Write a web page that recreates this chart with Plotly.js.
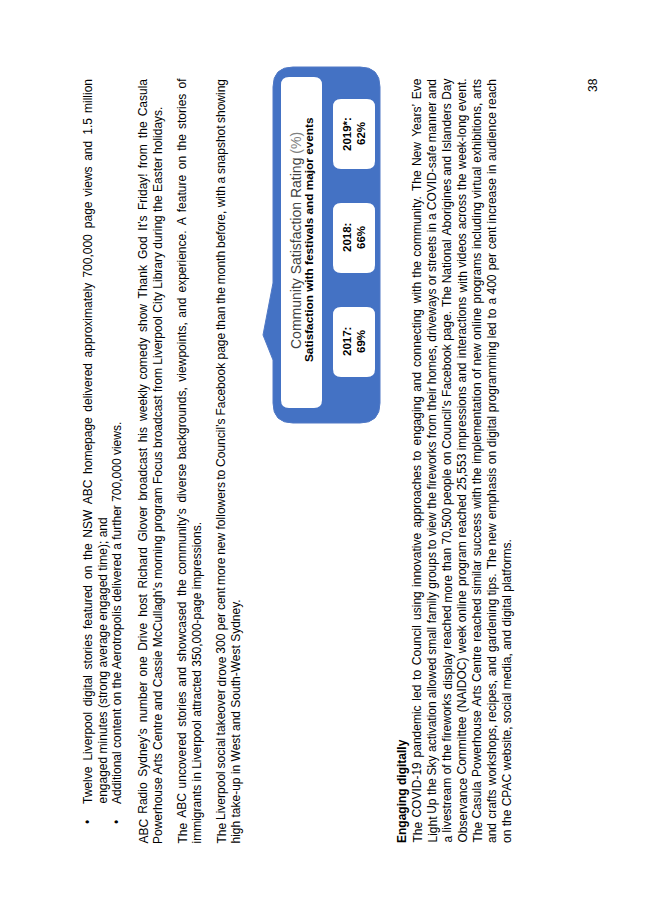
<!DOCTYPE html>
<html>
<head>
<meta charset="utf-8">
<script src="https://cdn.plot.ly/plotly-3.0.1.min.js"></script>
<style>
  html, body { margin: 0; padding: 0; background: #fff; }
  #page { width: 653px; height: 923px; }
</style>
</head>
<body>
<div id="page"></div>
<script>
window.addEventListener("DOMContentLoaded", init);

// chart values
const years = ["2017:", "2018:", "2019*:"];
const ratings = [69, 66, 62];
const chartTitle = "Community Satisfaction Rating";
const chartUnit = "(%)";
const chartSubtitle = "Satisfaction with festivals and major events";

// page text, one entry per printed line
const bulletLines = [
    ["Twelve Liverpool digital stories featured on the NSW ABC homepage delivered approximately 700,000 page views and 1.5 million",
     "engaged minutes (strong average engaged time); and"],
    ["Additional content on the Aerotropolis delivered a further 700,000 views."]
];
const paragraphLines = [
    ["ABC Radio Sydney’s number one Drive host Richard Glover broadcast his weekly comedy show Thank God It’s Friday! from the Casula",
     "Powerhouse Arts Centre and Cassie McCullagh’s morning program Focus broadcast from Liverpool City Library during the Easter holidays."],
    ["The ABC uncovered stories and showcased the community’s diverse backgrounds, viewpoints, and experience. A feature on the stories of",
     "immigrants in Liverpool attracted 350,000-page impressions."],
    ["The Liverpool social takeover drove 300 per cent more new followers to Council’s Facebook page than the month before, with a snapshot showing",
     "high take-up in West and South-West Sydney."]
];
const digitalHeading = "Engaging digitally";
const digitalLines = [
    "The COVID-19 pandemic led to Council using innovative approaches to engaging and connecting with the community.  The New Years’ Eve",
    "Light Up the Sky activation allowed small family groups to view the fireworks from their homes, driveways or streets in a COVID-safe manner and",
    "a livestream of the fireworks display reached more than 70,500 people on Council’s Facebook page. The National Aborigines and Islanders Day",
    "Observance Committee (NAIDOC) week online program reached 25,553 impressions and interactions with videos across the week-long event.",
    "The Casula Powerhouse Arts Centre reached similar success with the implementation of new online programs including virtual exhibitions, arts",
    "and crafts workshops, recipes, and gardening tips. The new emphasis on digital programming led to a 400 per cent increase in audience reach",
    "on the CPAC website, social media, and digital platforms."
];
const pageNumber = "38";


const FONT = "Liberation Sans, Arial, sans-serif";
const BLUE = "#4472C4";
const TEXT_END = 79;
let annotations = [];
let shapes = [];
let ctx = document.createElement("canvas").getContext("2d");


function measure(word, size, bold) {
    ctx.font = (bold ? "bold " : "") + size + "px 'Liberation Sans'";
    return ctx.measureText(word).width;
}


function label(text, x, y, size, opts) {
    opts = opts || {};
    annotations.push({
        x: x, y: y, xref: "x", yref: "y",
        text: text, showarrow: false, textangle: -90,
        xanchor: "center", yanchor: opts.yanchor || "bottom",
        borderpad: 0, borderwidth: 0,
        font: { family: FONT, size: size, color: opts.color || "#000",
                weight: opts.bold ? "bold" : "normal" }
    });
}


// rotated line of text reading upward from yStart; justified lines are spread to yEnd
function addLine(text, x, yStart, justify, size, bold) {
    size = size || 12;
    if (!justify) {
        label(bold ? "<b>" + text + "</b>" : text, x, yStart, size, { bold: bold });
        return;
    }
    let words = text.split(" ").filter(w => w.length);
    let widths = words.map(w => measure(w, size, bold));
    let total = widths.reduce((a, b) => a + b, 0);
    let gap = (yStart - TEXT_END - total) / (words.length - 1);
    let y = yStart;
    words.forEach((w, i) => {
        label(w, x, y, size, { bold: bold });
        y -= widths[i] + gap;
    });
}


function roundRect(x0, y0, x1, y1, r) {
    return `M${x0 + r},${y0} L${x1 - r},${y0} Q${x1},${y0} ${x1},${y0 + r} ` +
           `L${x1},${y1 - r} Q${x1},${y1} ${x1 - r},${y1} L${x0 + r},${y1} ` +
           `Q${x0},${y1} ${x0},${y1 - r} L${x0},${y0 + r} Q${x0},${y0} ${x0 + r},${y0} Z`;
}


function buildText() {
    // bullets
    let x = 88;
    bulletLines.forEach(lines => {
        label("•", x, 822, 12, { yanchor: "middle" });
        lines.forEach((line, i) => {
            addLine(line, x, 804, i < lines.length - 1);
            x += 14.5;
        });
    });

    // paragraphs
    let px = [143, 182, 221];
    paragraphLines.forEach((lines, p) => {
        lines.forEach((line, i) => {
            addLine(line, px[p] + i * 14.5, 844, i < lines.length - 1);
        });
    });

    // engaging digitally
    addLine(digitalHeading, 402, 843, false, 12, true);
    digitalLines.forEach((line, i) => {
        addLine(line, 417 + i * 15, 843, i < digitalLines.length - 1);
    });

    label(pageNumber, 593, 85, 12, { yanchor: "middle" });
}


function buildChart() {
    // callout body with pointer on the left
    let x0 = 273, y0 = 67, x1 = 380, y1 = 423, r = 20;
    let body = `M${x0 + r},${y0} L${x1 - r},${y0} Q${x1},${y0} ${x1},${y0 + r} ` +
               `L${x1},${y1 - r} Q${x1},${y1} ${x1 - r},${y1} L${x0 + r},${y1} ` +
               `Q${x0},${y1} ${x0},${y1 - r} L${x0},360 L263,335 L${x0},283 ` +
               `L${x0},${y0 + r} Q${x0},${y0} ${x0 + r},${y0} Z`;
    shapes.push({ type: "path", xref: "x", yref: "y", path: body,
                  fillcolor: BLUE, line: { color: "#5079c6", width: 1 } });

    shapes.push({ type: "path", xref: "x", yref: "y", path: roundRect(281, 77, 322, 408, 8),
                  fillcolor: "#fff", line: { width: 0 } });
    label(chartTitle + " <span style='color:#7f7f7f'>" + chartUnit + "</span>", 296, 241, 14,
          { yanchor: "middle", color: "#404040" });
    label("<b>" + chartSubtitle + "</b>", 309, 240, 11.8, { yanchor: "middle", bold: true });

    years.forEach((yr, i) => {
        let cy = 342 - i * 104;
        shapes.push({ type: "path", xref: "x", yref: "y",
                      path: roundRect(333, cy - 35, 375, cy + 35, 8),
                      fillcolor: "#fff", line: { width: 0 } });
        label("<b>" + yr + "</b>", 347, cy, 11.5, { yanchor: "middle", bold: true });
        label("<b>" + ratings[i] + "%</b>", 361, cy, 11.5, { yanchor: "middle", bold: true });
    });
}


function init() {
    buildText();
    buildChart();

    let trace = { x: [0], y: [0], mode: "markers", marker: { opacity: 0 },
                  hoverinfo: "skip", showlegend: false };
    let layout = {
        width: 653, height: 923,
        margin: { l: 0, r: 0, t: 0, b: 0 },
        paper_bgcolor: "#fff", plot_bgcolor: "#fff",
        xaxis: { range: [0, 653], visible: false, fixedrange: true },
        yaxis: { range: [923, 0], visible: false, fixedrange: true },
        shapes: shapes,
        annotations: annotations,
        showlegend: false
    };
    Plotly.newPlot("page", [trace], layout, { staticPlot: true, displayModeBar: false });
}
</script>
</body>
</html>
